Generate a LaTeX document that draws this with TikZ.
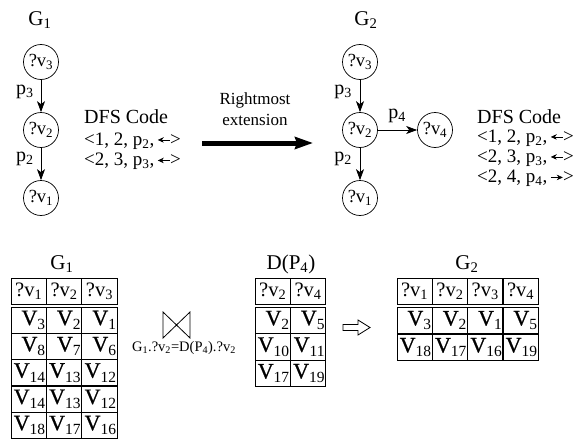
\documentclass[tikz,border=0pt]{standalone}
\usepackage{fontspec}
\setmainfont{Liberation Serif}
\newfontface\vface{Liberation Serif}[FakeBold=0.8]
\usetikzlibrary{arrows.meta,shapes.geometric}
\newcommand\fsz[1]{\fontsize{#1}{#1}\selectfont}
\newcommand\qv[1]{?v\textsubscript{#1}}
\newcommand\bv[1]{{\vface V}\raisebox{-4.5pt}{\fsz{15.5}#1}}
\newcommand\lar{\,\tikz[x=1pt,y=1pt,baseline=-0.28em]\draw[line width=0.6pt,{Stealth[length=6pt,width=5.5pt]}-](0,0)--(12,0);}
\newcommand\rar{\,\tikz[x=1pt,y=1pt,baseline=-0.28em]\draw[line width=0.6pt,-{Stealth[length=6pt,width=5.5pt]}](0,0)--(12,0);}
\begin{document}
\begin{tikzpicture}[x=1pt,y=-1pt,
  vnode/.style={draw,circle,line width=0.7pt,minimum size=35pt,inner sep=0pt,font=\fsz{18.5}},
  edge/.style={-{Stealth[length=11pt,width=8pt,inset=3pt]},line width=0.8pt},
  elab/.style={font=\fsz{20},inner sep=0pt},
  title/.style={font=\fsz{21},inner sep=0pt},
  code/.style={font=\fsz{19},anchor=west,inner sep=0pt},
  hcell/.style={draw,line width=0.8pt,minimum width=35.4pt,minimum height=26.5pt,inner sep=0pt,font=\fsz{20.5}},
  bcell/.style={draw,line width=0.8pt,minimum height=26.4pt,text width=33pt,inner xsep=1.2pt,inner ysep=0pt,align=right,font=\fsz{22}},
]
\useasboundingbox (0,0) rectangle (584,439);

% ---------- G1 graph ----------
\node[title] (g1t) at (40,20) {G\textsubscript{1}};
\node[vnode] (a3) at (41,62) {\qv{3}};
\node[vnode] (a2) at (41,130) {\qv{2}};
\node[vnode] (a1) at (41,198) {\qv{1}};
\draw[edge] (a3) -- (a2);
\draw[edge] (a2) -- (a1);
\node[elab] (la3) at (25,92) {p\textsubscript{3}};
\node[elab] (la2) at (25,159) {p\textsubscript{2}};

\node[code,font=\fsz{20}] (c1t) at (84,117) {DFS Code};
\node[code] (c11) at (84,141) {<1, 2, p\textsubscript{2},\lar>};
\node[code] (c12) at (84,161.5) {<2, 3, p\textsubscript{3},\lar>};

% ---------- rightmost extension ----------
\node[font=\fsz{17},align=center,inner sep=0pt] (rx) at (255,109) {Rightmost\\[4pt]extension};
\coordinate (ra) at (202,143);
\coordinate (rb) at (313,143);
\draw[line width=5pt,-{Stealth[length=18pt,width=12pt,inset=2pt]}] (ra) -- (rb);

% ---------- G2 graph ----------
\node[title] (g2t) at (366,20) {G\textsubscript{2}};
\node[vnode] (b3) at (360,62) {\qv{3}};
\node[vnode] (b2) at (360,130) {\qv{2}};
\node[vnode] (b1) at (360,198) {\qv{1}};
\node[vnode] (b4) at (435,130) {\qv{4}};
\draw[edge] (b3) -- (b2);
\draw[edge] (b2) -- (b1);
\draw[edge] (b2) -- (b4);
\node[elab] (lb3) at (343,92) {p\textsubscript{3}};
\node[elab] (lb2) at (343,159) {p\textsubscript{2}};
\node[elab] (lb4) at (397,116) {p\textsubscript{4}};

\node[code,font=\fsz{20}] (c2t) at (477,117) {DFS Code};
\node[code] (c21) at (477,138) {<1, 2, p\textsubscript{2},\lar>};
\node[code] (c22) at (477,158) {<2, 3, p\textsubscript{3},\lar>};
\node[code] (c23) at (477,178.5) {<2, 4, p\textsubscript{4},\rar>};

% ---------- G1 table ----------
\node[title] (t1t) at (62,264) {G\textsubscript{1}};
\foreach \h [count=\c] in {1,2,3}
  \node[hcell] (ta-h-\c) at ({11+35.4*(\c-0.5)},291.25) {\qv{\h}};
\foreach \row [count=\r] in {{3,2,1},{8,7,6},{14,13,12},{14,13,12},{18,17,16}}
  \foreach \v [count=\c] in \row
    \node[bcell] (ta-\r-\c) at ({11+35.4*(\c-0.5)},{307+26.3*(\r-0.5)}) {\bv{\v}};

% ---------- join ----------
\draw[line width=0.8pt] (163,312) -- (163,338) -- (190,312) -- (190,338) -- cycle;
\node[font=\fsz{14.5},inner sep=0pt] (jl) at (184,348) {G\textsubscript{1}.\qv{2}=D(P\textsubscript{4}).\qv{2}};

% ---------- D(P4) table ----------
\node[title] (t2t) at (291,264) {D(P\textsubscript{4})};
\foreach \h [count=\c] in {2,4}
  \node[hcell] (tb-h-\c) at ({255+35.4*(\c-0.5)},291.25) {\qv{\h}};
\foreach \row [count=\r] in {{2,5},{10,11},{17,19}}
  \foreach \v [count=\c] in \row
    \node[bcell] (tb-\r-\c) at ({255+35.4*(\c-0.5)},{307+26.6*(\r-0.5)}) {\bv{\v}};

% ---------- hollow arrow ----------
\draw[line width=0.8pt] (343,324.5) -- (358,324.5) -- (358,320) -- (370,327.5) -- (358,335) -- (358,330.5) -- (343,330.5) -- cycle;

% ---------- G2 table ----------
\node[title] (t3t) at (467,264) {G\textsubscript{2}};
\foreach \h [count=\c] in {1,2,3,4}
  \node[hcell] (tc-h-\c) at ({397+35.3*(\c-0.5)},291.25) {\qv{\h}};
\foreach \row [count=\r] in {{3,2,1,5},{18,17,16,19}}
  \foreach \v [count=\c] in \row
    \node[bcell] (tc-\r-\c) at ({397+35.3*(\c-0.5)},{307+27*(\r-0.5)}) {\bv{\v}};
\end{tikzpicture}
\end{document}
